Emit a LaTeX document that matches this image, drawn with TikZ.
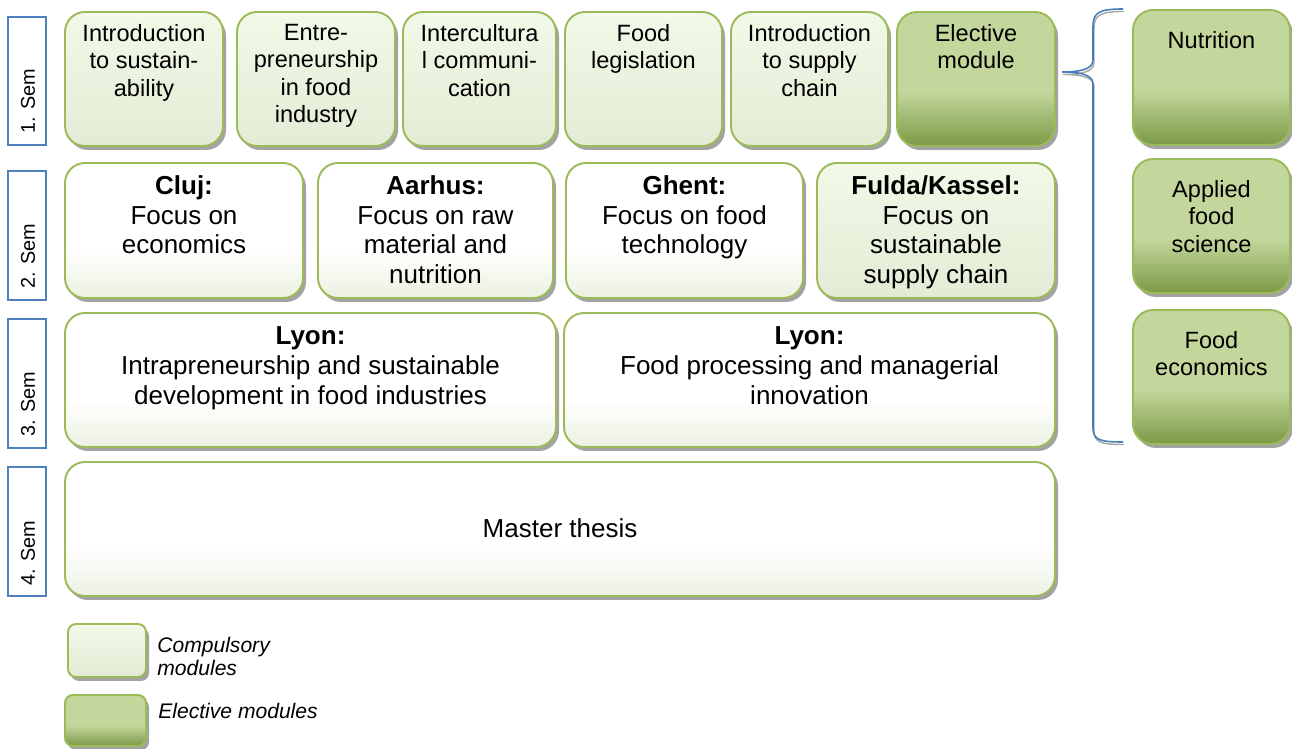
\documentclass[tikz,border=0pt]{standalone}
\usepackage{fontspec}
\setmainfont{Liberation Sans}
\usetikzlibrary{positioning,fit,shadows}
\definecolor{modline}{HTML}{9BBB59}
\definecolor{semline}{HTML}{4F81BD}
\definecolor{cptop}{HTML}{F1F9E8}
\definecolor{cpbot}{HTML}{E4EBD5}
\definecolor{wtbot}{HTML}{ECF1E1}
\definecolor{ellight}{HTML}{C3D69B}
\definecolor{eldark}{HTML}{7B9A46}
\definecolor{bracecol}{HTML}{4A7EBB}
\pgfdeclareverticalshading{compshade}{100bp}{color(0bp)=(cpbot); color(25bp)=(cpbot); color(75bp)=(cptop); color(100bp)=(cptop)}
\pgfdeclareverticalshading{whiteshade}{100bp}{color(0bp)=(wtbot); color(25bp)=(wtbot); color(43bp)=(white); color(100bp)=(white)}
\pgfdeclareverticalshading{elecshade}{100bp}{color(0bp)=(eldark); color(25bp)=(eldark); color(45bp)=(ellight); color(100bp)=(ellight)}
\newcommand{\bracepath}{(bracetop) .. controls (1100,9) and (1093,12) .. (1093,26) -- (1093,60)
  .. controls (1093,70) and (1078,72) .. (bracetip) .. controls (1078,72) and (1093,74) .. (1093,84)
  -- (1093,428) .. controls (1093,440) and (1100,442) .. (bracebot)}

\begin{document}
\begin{tikzpicture}[x=0.02cm,y=-0.02cm,
    modbox/.style={draw=modline,line width=1.1pt,rounded corners=0.4cm,inner sep=0pt,shade,
      drop shadow={shadow xshift=0.06cm,shadow yshift=-0.08cm,fill=black!40,opacity=0.9}},
    compbox/.style={modbox,shading=compshade},
    plainbox/.style={modbox,shading=whiteshade},
    elecbox/.style={modbox,shading=elecshade},
    legbox/.style={rounded corners=0.16cm},
    semframe/.style={draw=semline,line width=1pt,inner sep=0pt},
    semtext/.style={rotate=90,anchor=west,inner sep=0pt,font=\fontsize{11.3}{13}\selectfont},
    smalltext/.style={align=center,inner sep=0pt,font=\fontsize{13.4}{15.6}\selectfont},
    bigtext/.style={align=center,inner sep=0pt,font=\fontsize{14.8}{17}\selectfont},
    legtext/.style={align=left,anchor=north west,inner sep=0pt,font=\itshape\fontsize{12}{13}\selectfont}]
    \useasboundingbox (0,0) rectangle (1292,749);

    %semester labels
    \node[semframe,fit={(8,17) (46,145)}] (sem1) {};
    \node[semtext] (sem1-t) at (28,134) {1. Sem};
    \node[semframe,fit={(8,171) (46,300)}] (sem2) {};
    \node[semtext] (sem2-t) at (28,289) {2. Sem};
    \node[semframe,fit={(8,319) (46,448)}] (sem3) {};
    \node[semtext] (sem3-t) at (28,437) {3. Sem};
    \node[semframe,fit={(8,467) (46,596)}] (sem4) {};
    \node[semtext] (sem4-t) at (28,586) {4. Sem};

    %1. semester
    \node[compbox,fit={(65,12) (223,146)}] (sustain) {};
    \node[smalltext,below=0.26cm of sustain.north] (sustain-t) {Introduction\\to sustain-\\ability};
    \node[compbox,fit={(237,12) (395,146)}] (entre) {};
    \node[smalltext,below=0.26cm of entre.north] (entre-t) {Entre-\\preneurship\\in food\\industry};
    \node[compbox,fit={(403,12) (556,146)}] (intercult) {};
    \node[smalltext,below=0.26cm of intercult.north] (intercult-t) {Intercultura\\l communi-\\cation};
    \node[compbox,fit={(565,12) (722,146)}] (foodlaw) {};
    \node[smalltext,below=0.26cm of foodlaw.north] (foodlaw-t) {Food\\legislation};
    \node[compbox,fit={(731,12) (888,146)}] (supply) {};
    \node[smalltext,below=0.26cm of supply.north] (supply-t) {Introduction\\to supply\\chain};
    \node[elecbox,fit={(897,12) (1055,146)}] (elective) {};
    \node[smalltext,below=0.26cm of elective.north] (elective-t) {Elective\\module};

    %2. semester
    \node[plainbox,fit={(65,163) (303,298)}] (cluj) {};
    \node[bigtext,below=0.26cm of cluj.north] (cluj-t) {\textbf{Cluj:}\\Focus on\\economics};
    \node[plainbox,fit={(318,163) (553,298)}] (aarhus) {};
    \node[bigtext,below=0.26cm of aarhus.north] (aarhus-t) {\textbf{Aarhus:}\\Focus on raw\\material and\\nutrition};
    \node[plainbox,fit={(566,163) (803,298)}] (ghent) {};
    \node[bigtext,below=0.26cm of ghent.north] (ghent-t) {\textbf{Ghent:}\\Focus on food\\technology};
    \node[compbox,fit={(817,163) (1055,298)}] (fulda) {};
    \node[bigtext,below=0.26cm of fulda.north] (fulda-t) {\textbf{Fulda/Kassel:}\\Focus on\\sustainable\\supply chain};

    %3. semester
    \node[plainbox,fit={(65,313) (556,447)}] (lyonsd) {};
    \node[bigtext,below=0.28cm of lyonsd.north] (lyonsd-t) {\textbf{Lyon:}\\Intrapreneurship and sustainable\\development in food industries};
    \node[plainbox,fit={(564,313) (1055,447)}] (lyonfp) {};
    \node[bigtext,below=0.28cm of lyonfp.north] (lyonfp-t) {\textbf{Lyon:}\\Food processing and managerial\\innovation};

    %4. semester
    \node[plainbox,fit={(65,462) (1055,596)}] (thesis) {};
    \node[bigtext,anchor=base] (thesis-t) at (560,538) {Master thesis};

    %elective modules
    \node[elecbox,fit={(1133,10) (1290,145)}] (nutrition) {};
    \node[smalltext,below=0.44cm of nutrition.north] (nutrition-t) {Nutrition};
    \node[elecbox,fit={(1133,159) (1290,293)}] (applied) {};
    \node[smalltext,below=0.44cm of applied.north] (applied-t) {Applied\\food\\science};
    \node[elecbox,fit={(1133,310) (1290,444)}] (foodecon) {};
    \node[smalltext,below=0.44cm of foodecon.north] (foodecon-t) {Food\\economics};

    %brace
    \coordinate (bracetop) at (1123,9);
    \coordinate (bracetip) at (1062,72);
    \coordinate (bracebot) at (1123,442);
    \draw[black!35,line width=0.8pt,transform canvas={xshift=0.02cm,yshift=-0.05cm}] \bracepath;
    \draw[bracecol,line width=0.9pt] \bracepath;

    %legend
    \node[compbox,legbox,fit={(68,624) (146,677)}] (legcomp) {};
    \node[legtext] (legcomp-t) at (157,637) {Compulsory\\modules};
    \node[elecbox,legbox,fit={(65,695) (146,746)}] (legelec) {};
    \node[legtext] (legelec-t) at (158,703) {Elective modules};
\end{tikzpicture}
\end{document}
